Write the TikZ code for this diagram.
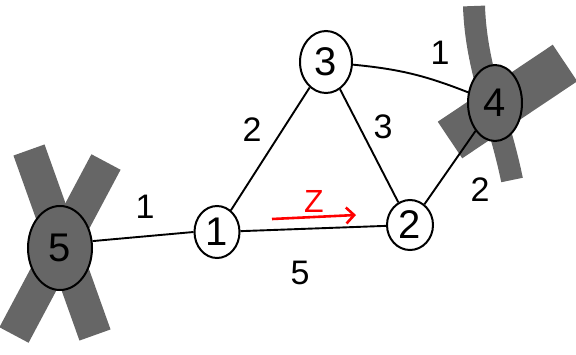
\documentclass[tikz,border=0pt]{standalone}
\usepackage{fontspec}
\setmainfont{Liberation Sans}
\usetikzlibrary{shapes.geometric,arrows.meta}
\begin{document}
\begin{tikzpicture}[x=1pt,y=-1pt,
  vertex/.style={ellipse,draw=black,line width=2pt,inner sep=0pt,font=\fontsize{40}{40}\selectfont},
  edge/.style={draw=black,line width=1.9pt},
  wlabel/.style={font=\fontsize{34}{34}\selectfont},
  cross/.style={draw={rgb,255:red,102;green,102;blue,102},line cap=butt}
]
\useasboundingbox (0,0) rectangle (576,354);
% gray crosses
\draw[cross,line width=33pt] (29,150) -- (95,335);
\draw[cross,line width=33pt] (106,162) -- (14,335);
\draw[cross,line width=44pt] (450,140) -- (565,63);
\draw[cross,line width=22pt] (474,6) .. controls (476,70) and (500,120) .. (512,180);
% nodes
\node[vertex,minimum width=64pt,minimum height=84pt,fill={rgb,255:red,102;green,102;blue,102}] (n5) at (60,248) {5};
\node[vertex,minimum width=45pt,minimum height=52pt] (n1) at (217,232) {1};
\node[vertex,minimum width=46pt,minimum height=50pt] (n2) at (410,225) {2};
\node[vertex,minimum width=52pt,minimum height=62pt] (n3) at (326,62) {3};
\node[vertex,minimum width=54pt,minimum height=76pt,fill={rgb,255:red,102;green,102;blue,102}] (n4) at (495,103) {4};
% edges
\draw[edge] (n5.12) -- (n1.west);
\draw[edge] (n1) -- (n2);
\draw[edge] (n1) -- (n3);
\draw[edge] (n3) -- (n2);
\draw[edge] (n3) to[bend left=8] (n4);
\draw[edge] (n2) -- (n4);
% labels
\node[wlabel] (l51) at (145,207) {1};
\node[wlabel] (l12) at (300,273) {5};
\node[wlabel] (l13) at (252,130) {2};
\node[wlabel] (l32) at (383,127) {3};
\node[wlabel] (l34) at (440,53) {1};
\node[wlabel] (l24) at (480,190) {2};
% red arrow
\coordinate (a1) at (272,219);
\coordinate (a2) at (356,215);
\draw[red,line width=2.6pt,-{Straight Barb[length=8pt,width=16pt]}] (a1) -- (a2);
\node[text=red,font=\fontsize{32}{32}\selectfont] (z) at (314,201) {Z};
\end{tikzpicture}
\end{document}
